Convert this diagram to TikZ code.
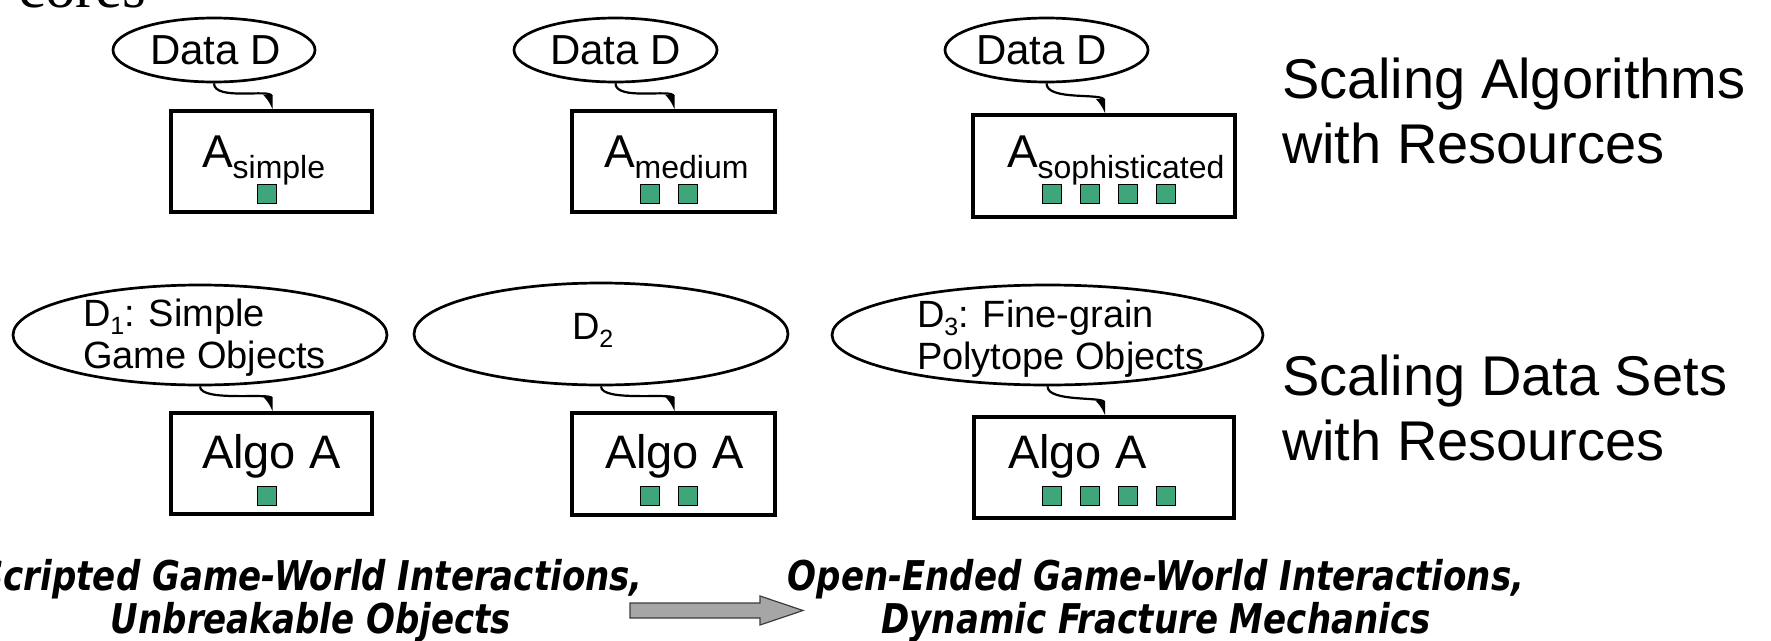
\documentclass[tikz,border=0pt]{standalone}
\usepackage{fontspec}
\setmainfont{Liberation Sans}
\newfontfamily\serifcap{Liberation Serif}
\newfontfamily\capfont[FakeStretch=0.83]{DejaVu Sans}
\usetikzlibrary{shapes.geometric,arrows.meta}
\definecolor{coregreen}{RGB}{62,166,122}
\definecolor{arrowgray}{RGB}{166,166,166}
\definecolor{arrowedge}{RGB}{60,60,60}
\newcommand{\setfs}[1]{\fontsize{#1}{#1}\selectfont}
\begin{document}
\begin{tikzpicture}[x=1pt,y=-1pt,
  lbl/.style={inner sep=0pt, outer sep=0pt},
  dataell/.style={draw, ellipse, line width=2.7pt, inner sep=0pt},
  algobox/.style={draw, rectangle, line width=3.3pt, inner sep=0pt},
  core/.style={draw, rectangle, line width=0.9pt, fill=coregreen, minimum size=19pt, inner sep=0pt},
  feed/.style={line width=2.2pt, -{Latex[right,length=12pt,width=17pt]}},
  caption/.style={lbl, anchor=base, font=\capfont\bfseries\itshape\setfs{41}},
  side/.style={lbl, anchor=base west, font=\setfs{56}}]
\useasboundingbox (0,0) rectangle (1771,640);

% heading fragment at the top edge
\node[lbl, anchor=base west] (cores) at (18,7) {\serifcap\setfs{61}cores};

% ---- row 1: one data set, growing algorithms ----
\node[dataell, minimum width=202pt, minimum height=64pt] (e1) at (214,50) {};
\node[dataell, minimum width=203pt, minimum height=64pt] (e2) at (615.5,50) {};
\node[dataell, minimum width=203pt, minimum height=64pt] (e3) at (1046.5,50) {};
\node[lbl, anchor=base west] (te1) at (150,64) {\setfs{42}Data D};
\node[lbl, anchor=base west] (te2) at (550,64) {\setfs{42}Data D};
\node[lbl, anchor=base west] (te3) at (976,64) {\setfs{42}Data D};

\node[algobox, minimum width=201pt, minimum height=101pt] (b1) at (271.5,161.5) {};
\node[algobox, minimum width=203pt, minimum height=101pt] (b2) at (673.5,161.5) {};
\node[algobox, minimum width=262pt, minimum height=102pt] (b3) at (1104,166) {};
\node[lbl, anchor=base west] (tb1) at (202,167) {\setfs{46}A\raisebox{-11pt}{\setfs{32}simple}};
\node[lbl, anchor=base west] (tb2) at (604,167) {\setfs{46}A\raisebox{-11pt}{\setfs{32}medium}};
\node[lbl, anchor=base west] (tb3) at (1007,167) {\setfs{46}A\raisebox{-11pt}{\setfs{32}sophisticated}};

\node[core] (c1a) at (267,194) {};
\node[core] (c2a) at (650,194) {};
\node[core] (c2b) at (688,194) {};
\node[core] (c3a) at (1052,194) {};
\node[core] (c3b) at (1090,194) {};
\node[core] (c3c) at (1128,194) {};
\node[core] (c3d) at (1166,194) {};

\draw[feed] (e1.south) .. controls +(0,18) and +(0,-21) .. (b1.north);
\draw[feed] (e2.south) .. controls +(0,18) and +(0,-21) .. (b2.north);
\draw[feed] (e3.south) .. controls +(0,18) and +(0,-21) .. (b3.north);

% ---- row 2: growing data sets, one algorithm ----
\node[dataell, minimum width=374pt, minimum height=100pt] (e4) at (200,335) {};
\node[dataell, minimum width=374pt, minimum height=102pt] (e5) at (601,334) {};
\node[dataell, minimum width=431pt, minimum height=100pt] (e6) at (1047.5,335) {};
\node[lbl, anchor=base west] (te4a) at (83,326) {\setfs{38}D\raisebox{-8pt}{\setfs{25}1}: Simple};
\node[lbl, anchor=base west] (te4b) at (83,368) {\setfs{38}Game Objects};
\node[lbl, anchor=base west] (te5) at (572,339) {\setfs{38}D\raisebox{-8pt}{\setfs{25}2}};
\node[lbl, anchor=base west] (te6a) at (917,327) {\setfs{38}D\raisebox{-8pt}{\setfs{25}3}: Fine-grain};
\node[lbl, anchor=base west] (te6b) at (917,369) {\setfs{38}Polytope Objects};

\node[algobox, minimum width=201pt, minimum height=101pt] (b4) at (271.5,463.5) {};
\node[algobox, minimum width=203pt, minimum height=102pt] (b5) at (673.5,464) {};
\node[algobox, minimum width=260pt, minimum height=101pt] (b6) at (1104,467.5) {};
\node[lbl, anchor=base west] (tb4) at (202,468) {\setfs{47}Algo A};
\node[lbl, anchor=base west] (tb5) at (605,468) {\setfs{47}Algo A};
\node[lbl, anchor=base west] (tb6) at (1008,468) {\setfs{47}Algo A};

\node[core] (c4a) at (267,495.5) {};
\node[core] (c5a) at (649.5,495.5) {};
\node[core] (c5b) at (687.5,495.5) {};
\node[core] (c6a) at (1051.5,495.5) {};
\node[core] (c6b) at (1089.5,495.5) {};
\node[core] (c6c) at (1127.5,495.5) {};
\node[core] (c6d) at (1165.5,495.5) {};

\draw[feed] (e4.south) .. controls +(0,16) and +(0,-19) .. (b4.north);
\draw[feed] (e5.south) .. controls +(0,16) and +(0,-19) .. (b5.north);
\draw[feed] (e6.south) .. controls +(0,16) and +(0,-19) .. (b6.north);

% ---- side captions ----
\node[side] (sa1) at (1282,98) {Scaling Algorithms};
\node[side] (sa2) at (1282,163) {with Resources};
\node[side] (sd1) at (1282,395) {Scaling Data Sets};
\node[side] (sd2) at (1282,460) {with Resources};

% ---- bottom captions and the block arrow between them ----
\node[caption] (from1) at (311,590) {Scripted Game-World Interactions,};
\node[caption] (from2) at (311,633) {Unbreakable Objects};
\node[caption] (to1) at (1156,590) {Open-Ended Game-World Interactions,};
\node[caption] (to2) at (1156,633) {Dynamic Fracture Mechanics};

\coordinate (ga) at (630,610);
\draw[line width=1.2pt, draw=arrowedge, fill=arrowgray]
  (ga) ++(0,-7) -- ++(130,0) -- ++(0,-7) -- ++(43,14.5) -- ++(-43,14.5) -- ++(0,-7) -- ++(-130,0) -- cycle;
\end{tikzpicture}
\end{document}
